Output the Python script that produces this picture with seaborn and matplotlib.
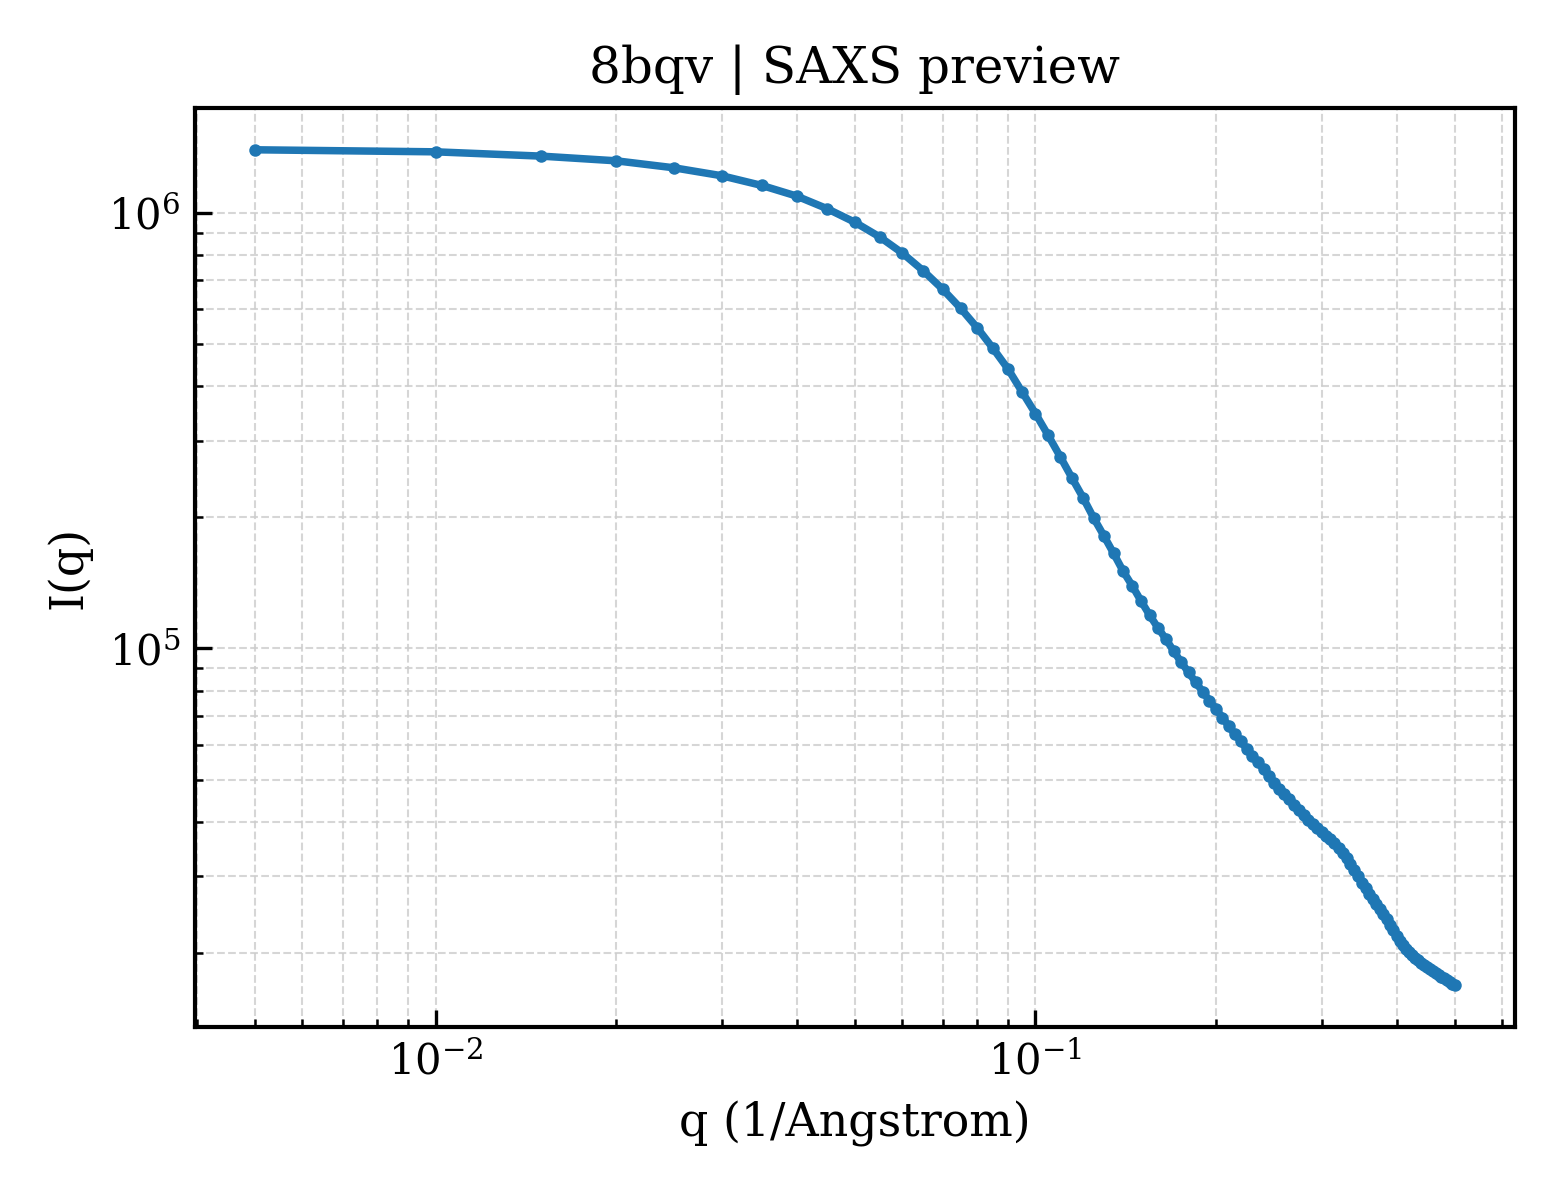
import matplotlib
matplotlib.use("Agg")
import matplotlib.pyplot as plt
import seaborn as sns
import numpy as np
import pandas as pd

# scattering vector q (1/Angstrom), 0.005 .. 0.5
q = [0.005, 0.010, 0.015, 0.020, 0.025, 0.030, 0.035, 0.040, 0.045, 0.050,
     0.055, 0.060, 0.065, 0.070, 0.075, 0.080, 0.085, 0.090, 0.095, 0.100,
     0.105, 0.110, 0.115, 0.120, 0.125, 0.130, 0.135, 0.140, 0.145, 0.150,
     0.155, 0.160, 0.165, 0.170, 0.175, 0.180, 0.185, 0.190, 0.195, 0.200,
     0.205, 0.210, 0.215, 0.220, 0.225, 0.230, 0.235, 0.240, 0.245, 0.250,
     0.255, 0.260, 0.265, 0.270, 0.275, 0.280, 0.285, 0.290, 0.295, 0.300,
     0.305, 0.310, 0.315, 0.320, 0.325, 0.330, 0.335, 0.340, 0.345, 0.350,
     0.355, 0.360, 0.365, 0.370, 0.375, 0.380, 0.385, 0.390, 0.395, 0.400,
     0.405, 0.410, 0.415, 0.420, 0.425, 0.430, 0.435, 0.440, 0.445, 0.450,
     0.455, 0.460, 0.465, 0.470, 0.475, 0.480, 0.485, 0.490, 0.495, 0.500]

# intensity I(q)
intensity = [1395000, 1380000, 1349000, 1316000, 1268000, 1216000, 1155000, 1092000, 1021000, 951000,
             880000, 808000, 736000, 668000, 604000, 544000, 488000, 438000, 388000, 346000,
             308400, 275300, 246400, 222000, 199400, 181400, 165200, 150400, 139200, 128400,
             119200, 111500, 105000, 98570, 92880, 88100, 83560, 79560, 75860, 72580,
             69350, 66340, 63500, 61170, 58800, 56660, 54750, 52770, 50850, 49010,
             47480, 46240, 45040, 43750, 42490, 41400, 40420, 39470, 38750, 37940,
             37150, 36460, 35710, 34860, 33960, 33080, 31960, 30960, 29990, 28980,
             28150, 27340, 26630, 25940, 25260, 24600, 23890, 23210, 22540, 21900,
             21330, 20830, 20450, 20130, 19820, 19500, 19250, 19000, 18750, 18550,
             18360, 18170, 17980, 17830, 17650, 17500, 17320, 17180, 17000, 16840]

title = "8bqv | SAXS preview"

sns.set_style("ticks")
plt.rcParams['font.family'] = ['DejaVu Serif']
plt.rcParams['mathtext.fontset'] = 'dejavuserif'
plt.rcParams['text.color'] = 'black'
plt.rcParams['axes.labelcolor'] = 'black'
plt.rcParams['xtick.color'] = 'black'
plt.rcParams['ytick.color'] = 'black'

df = pd.DataFrame({"q": q, "I": intensity})

fig, ax = plt.subplots(figsize=(5.2, 4), dpi=300)
sns.lineplot(data=df, x="q", y="I", marker="o", markersize=3, markeredgewidth=0,
             linewidth=1.8, color="#1f77b4", ax=ax)
ax.set_xscale("log")
ax.set_yscale("log")

ax.set_title(title, fontsize=12, color="black")
ax.set_xlabel("q (1/Angstrom)", fontsize=11)
ax.set_ylabel("I(q)", fontsize=11)

ax.tick_params(which="both", direction="in", labelsize=10)
ax.tick_params(which="major", length=4)
ax.tick_params(which="minor", length=2)
for s in ax.spines.values():
    s.set_linewidth(1.0)
    s.set_color("black")

# dashed grid, major and minor
ax.grid(True, which="both", linestyle="--", linewidth=0.5, color="#cccccc", alpha=0.8)

plt.subplots_adjust(left=0.125, right=0.971, top=0.91, bottom=0.144)
plt.savefig("out.png", dpi=300)
